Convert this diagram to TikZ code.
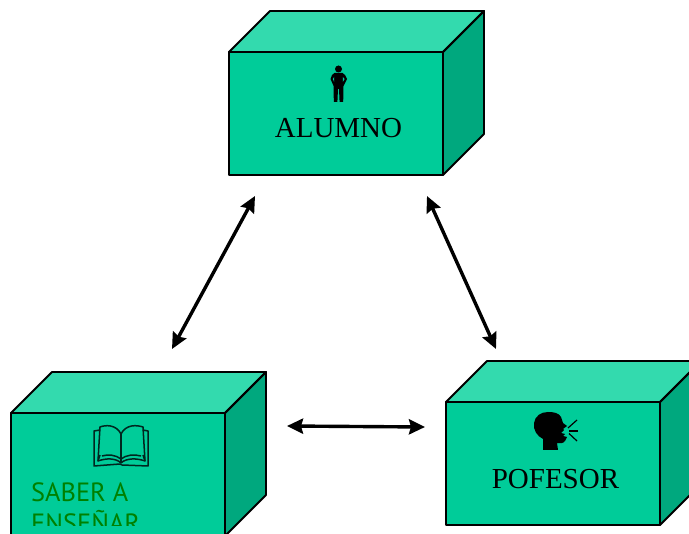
\documentclass[tikz,border=0pt]{standalone}
\usepackage{fontspec}
\setmainfont{Liberation Serif}
\newfontfamily\sabfont{PT Sans}
\usetikzlibrary{arrows.meta}
\definecolor{frontc}{HTML}{00CC99}
\definecolor{topc}{HTML}{33DAAE}
\definecolor{sidec}{HTML}{00A87E}
\definecolor{sabc}{HTML}{008000}
\definecolor{bookc}{HTML}{00261F}
\tikzset{
  face/.style={draw=black,line width=1.9pt,line join=round},
  frontface/.style={face,fill=frontc,inner sep=0pt,outer sep=0pt,minimum width=214pt,minimum height=123pt,anchor=north west},
  boxlabel/.style={inner sep=0pt,font=\fontsize{29}{32}\selectfont,text=black},
  link/.style={line width=3.4pt,{Stealth[length=16pt,width=15pt,inset=2pt]}-{Stealth[length=16pt,width=15pt,inset=2pt]}},
  iconline/.style={draw=bookc,line width=1.5pt,line join=round}
}
\newcommand{\boxthree}[3]{%
  \fill[topc] (#2,#3) -- ++(41,-41) -- ++(214,0) -- ++(-41,41) -- cycle;
  \fill[sidec] (#2+214,#3) -- ++(41,-41) -- ++(0,123) -- ++(-41,41) -- cycle;
  \draw[face] (#2,#3) -- ++(41,-41) -- ++(214,0) -- ++(-41,41) -- cycle;
  \draw[face] (#2+214,#3) -- ++(41,-41) -- ++(0,123) -- ++(-41,41) -- cycle;
  \node[frontface] (#1) at (#2,#3) {};
}
\begin{document}
\begin{tikzpicture}[x=1pt,y=-1pt]
\useasboundingbox (0,0) rectangle (689,534);
\clip (0,0) rectangle (689,534);
\fill[white] (0,0) rectangle (689,534);
\boxthree{alumno}{229}{52}
\boxthree{saber}{11}{413}
\boxthree{profesor}{446}{402}
\node[boxlabel] (alumnotxt) at (338.5,128.5) {ALUMNO};
\node[boxlabel] (profesortxt) at (555.5,479) {POFESOR};
\begin{scope}
\clip (12,470) rectangle (224,525.5);
\node[inner sep=0pt,anchor=north west,align=left,text=sabc,font=\sabfont\fontsize{26.4}{31}\selectfont] (sabertxt) at (31,482.5) {SABER A\\ENSEÑAR};
\end{scope}
% person icon
\fill[black] (338.5,69) circle (3.5);
\fill[black] (334.5,73) -- (342.5,73) -- (345,75) -- (347,79) -- (343.5,86) -- (343.2,102) -- (339.6,102) -- (339,89) -- (338,89) -- (337.4,102) -- (333.8,102) -- (333.6,86) -- (330.5,79) -- (332,75) -- cycle;
\fill[frontc] (332.8,79) -- (334.2,77) -- (334.2,82) -- cycle;
\fill[frontc] (344.6,79) -- (342.8,77) -- (342.8,82) -- cycle;
% book icon
\draw[iconline] (121,434) .. controls (116,424) and (105,425) .. (100,427) -- (98,461) .. controls (106,458) and (116,458) .. (121,463);
\draw[iconline] (121,434) .. controls (126,424) and (137,425) .. (143,427) -- (145,461) .. controls (137,458) and (126,458) .. (121,463);
\draw[iconline] (121,434) -- (121,463);
\draw[iconline] (100,430) -- (94,431) -- (94,466) -- (120,464) -- (122,465) -- (148,466) -- (148,431) -- (143,430);
\draw[iconline] (100,455) -- (98,461);
\draw[iconline] (143,455) -- (145,461);
\draw[iconline] (102,456) .. controls (108,454) and (116,455) .. (121,459) .. controls (126,455) and (134,454) .. (141,456);
% speaker icon
\fill[black] (534,423) .. controls (535,416) and (541,412) .. (548,412) .. controls (554,412) and (559,413) .. (561,417) -- (563,423) -- (567,426) -- (563,429) -- (564,430) -- (561,433) -- (565,434) -- (563,436) -- (567,437) -- (565,441) .. controls (563,444) and (560,443) .. (557,443) -- (558,450) -- (543,450) -- (543,439) .. controls (537,436) and (533,430) .. (534,423) -- cycle;
\draw[black,line width=1.2pt] (568,428) -- (577,420);
\draw[black,line width=1.2pt] (569,431) -- (578,431);
\draw[black,line width=1.2pt] (569,433.5) -- (577,441);
% arrows
\coordinate (a1) at (255,196);
\coordinate (a2) at (172,349);
\coordinate (b1) at (427,196);
\coordinate (b2) at (496,349);
\coordinate (c1) at (287,426);
\coordinate (c2) at (425,427);
\draw[link] (a1) -- (a2);
\draw[link] (b1) -- (b2);
\draw[link] (c1) -- (c2);
\end{tikzpicture}
\end{document}
